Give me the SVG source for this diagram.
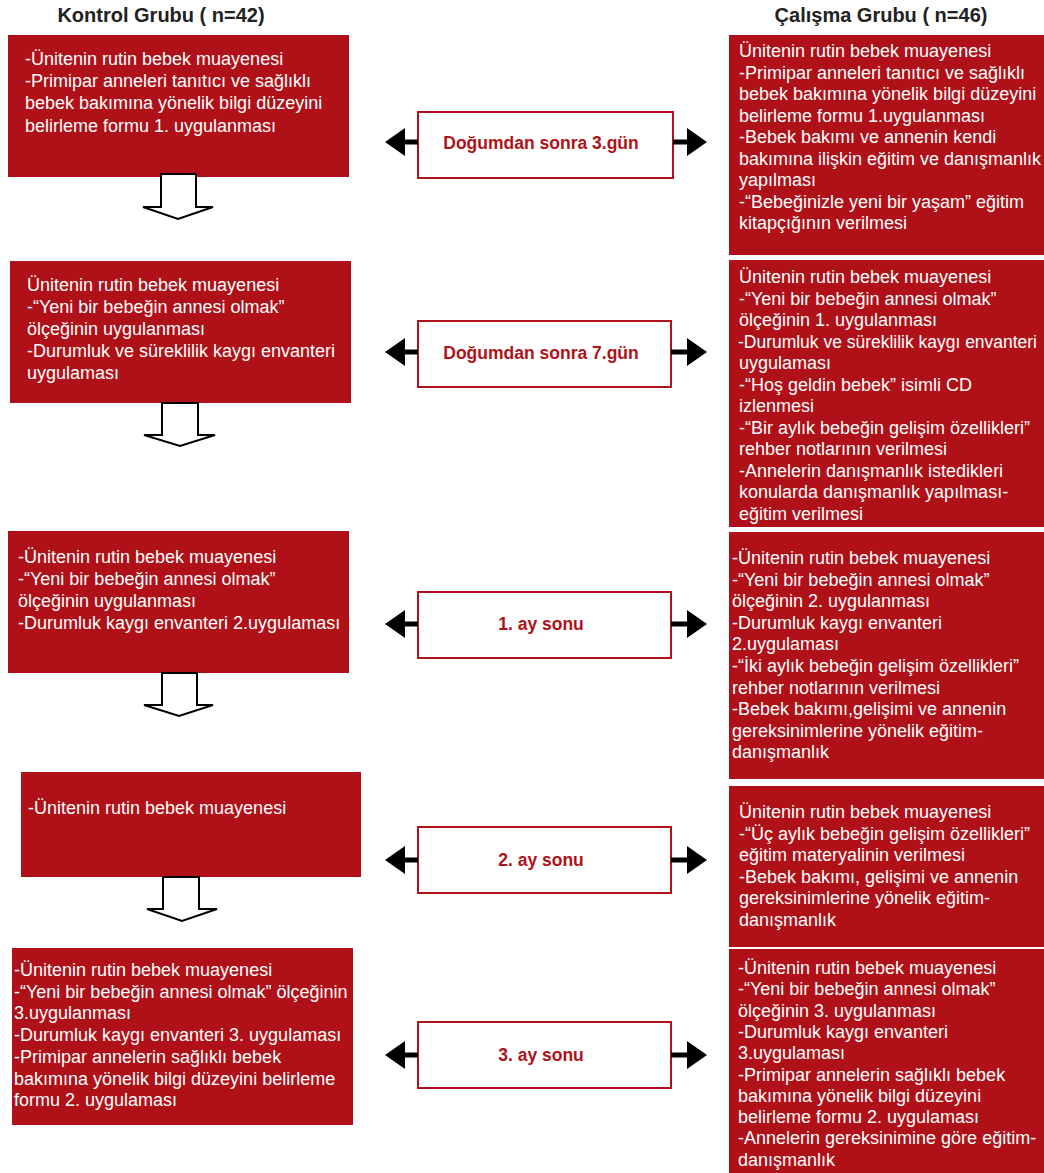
<svg xmlns="http://www.w3.org/2000/svg" width="1044" height="1173" viewBox="0 0 1044 1173">
<defs>
<style>
.hdr{font-family:"Liberation Sans",Arial,sans-serif;font-weight:bold;font-size:20px;fill:#222;text-anchor:middle}
.red{fill:#b01118}
.bt{font-family:"Liberation Sans",Arial,sans-serif;font-size:18px;fill:#fff}
.mid{fill:#fff;stroke:#b01118;stroke-width:2}
.ml{font-family:"Liberation Sans",Arial,sans-serif;font-weight:bold;font-size:17.5px;fill:#b01118;text-anchor:middle}
.down{fill:#fff;stroke:#000;stroke-width:2;stroke-linejoin:miter}
.ha{fill:#000}
</style>
</defs>
<rect width="1044" height="1173" fill="#fff"/>
<text class="hdr" x="161" y="22">Kontrol Grubu ( n=42)</text>
<text class="hdr" x="881" y="22">Çalışma Grubu ( n=46)</text>

<g id="control-1">
<rect class="red" x="8" y="35" width="341" height="142"/>
<text class="bt" x="25" y="65">-Ünitenin rutin bebek muayenesi</text>
<text class="bt" x="25" y="87.2">-Primipar anneleri tanıtıcı ve sağlıklı</text>
<text class="bt" x="25" y="109.4">bebek bakımına yönelik bilgi düzeyini</text>
<text class="bt" x="25" y="131.6">belirleme formu 1. uygulanması</text>
</g>
<g id="control-2">
<rect class="red" x="10" y="261" width="341" height="142"/>
<text class="bt" x="27" y="291">Ünitenin rutin bebek muayenesi</text>
<text class="bt" x="27" y="313">-“Yeni bir bebeğin annesi olmak”</text>
<text class="bt" x="27" y="335">ölçeğinin uygulanması</text>
<text class="bt" x="27" y="357">-Durumluk ve süreklilik kaygı envanteri</text>
<text class="bt" x="27" y="379">uygulaması</text>
</g>
<g id="control-3">
<rect class="red" x="8" y="531" width="341" height="142"/>
<text class="bt" x="18" y="563">-Ünitenin rutin bebek muayenesi</text>
<text class="bt" x="18" y="585">-“Yeni bir bebeğin annesi olmak”</text>
<text class="bt" x="18" y="607">ölçeğinin uygulanması</text>
<text class="bt" x="18" y="629">-Durumluk kaygı envanteri 2.uygulaması</text>
</g>
<g id="control-4">
<rect class="red" x="21" y="772" width="340" height="105"/>
<text class="bt" x="28" y="814">-Ünitenin rutin bebek muayenesi</text>
</g>
<g id="control-5">
<rect class="red" x="12" y="948" width="341" height="177"/>
<text class="bt" x="14" y="976">-Ünitenin rutin bebek muayenesi</text>
<text class="bt" x="14" y="997.7">-“Yeni bir bebeğin annesi olmak” ölçeğinin</text>
<text class="bt" x="14" y="1019.4">3.uygulanması</text>
<text class="bt" x="14" y="1041.1">-Durumluk kaygı envanteri 3. uygulaması</text>
<text class="bt" x="14" y="1062.8">-Primipar annelerin sağlıklı bebek</text>
<text class="bt" x="14" y="1084.5">bakımına yönelik bilgi düzeyini belirleme</text>
<text class="bt" x="14" y="1106.2">formu 2. uygulaması</text>
</g>

<g id="study-1">
<rect class="red" x="729" y="35" width="315" height="220"/>
<text class="bt" x="739" y="57">Ünitenin rutin bebek muayenesi</text>
<text class="bt" x="739" y="78.5">-Primipar anneleri tanıtıcı ve sağlıklı</text>
<text class="bt" x="739" y="100">bebek bakımına yönelik bilgi düzeyini</text>
<text class="bt" x="739" y="121.5">belirleme formu 1.uygulanması</text>
<text class="bt" x="739" y="143">-Bebek bakımı ve annenin kendi</text>
<text class="bt" x="739" y="164.5">bakımına ilişkin eğitim ve danışmanlık</text>
<text class="bt" x="739" y="186">yapılması</text>
<text class="bt" x="739" y="207.5">-“Bebeğinizle yeni bir yaşam” eğitim</text>
<text class="bt" x="739" y="229">kitapçığının verilmesi</text>
</g>
<g id="study-2">
<rect class="red" x="729" y="260" width="315" height="267"/>
<text class="bt" x="739" y="283">Ünitenin rutin bebek muayenesi</text>
<text class="bt" x="739" y="304.5">-“Yeni bir bebeğin annesi olmak”</text>
<text class="bt" x="739" y="326">ölçeğinin 1. uygulanması</text>
<text class="bt" x="738" y="347.5" textLength="299" lengthAdjust="spacingAndGlyphs">-Durumluk ve süreklilik kaygı envanteri</text>
<text class="bt" x="739" y="369">uygulaması</text>
<text class="bt" x="739" y="390.5">-“Hoş geldin bebek” isimli CD</text>
<text class="bt" x="739" y="412">izlenmesi</text>
<text class="bt" x="739" y="433.5">-“Bir aylık bebeğin gelişim özellikleri”</text>
<text class="bt" x="739" y="455">rehber notlarının verilmesi</text>
<text class="bt" x="739" y="476.5">-Annelerin danışmanlık istedikleri</text>
<text class="bt" x="739" y="498">konularda danışmanlık yapılması-</text>
<text class="bt" x="739" y="519.5">eğitim verilmesi</text>
</g>
<g id="study-3">
<rect class="red" x="729" y="532" width="315" height="247"/>
<text class="bt" x="732" y="564">-Ünitenin rutin bebek muayenesi</text>
<text class="bt" x="732" y="585.6">-“Yeni bir bebeğin annesi olmak”</text>
<text class="bt" x="732" y="607.2">ölçeğinin 2. uygulanması</text>
<text class="bt" x="732" y="628.8">-Durumluk kaygı envanteri</text>
<text class="bt" x="732" y="650.4">2.uygulaması</text>
<text class="bt" x="732" y="672">-“İki aylık bebeğin gelişim özellikleri”</text>
<text class="bt" x="732" y="693.6">rehber notlarının verilmesi</text>
<text class="bt" x="732" y="715.2">-Bebek bakımı,gelişimi ve annenin</text>
<text class="bt" x="732" y="736.8">gereksinimlerine yönelik eğitim-</text>
<text class="bt" x="732" y="758.4">danışmanlık</text>
</g>
<g id="study-4">
<rect class="red" x="729" y="786" width="315" height="161"/>
<text class="bt" x="739" y="818">Ünitenin rutin bebek muayenesi</text>
<text class="bt" x="739" y="839.6">-“Üç aylık bebeğin gelişim özellikleri”</text>
<text class="bt" x="739" y="861.2">eğitim materyalinin verilmesi</text>
<text class="bt" x="739" y="882.8">-Bebek bakımı, gelişimi ve annenin</text>
<text class="bt" x="739" y="904.4">gereksinimlerine yönelik eğitim-</text>
<text class="bt" x="739" y="926">danışmanlık</text>
</g>
<g id="study-5">
<rect class="red" x="729" y="949" width="315" height="224"/>
<text class="bt" x="738" y="974">-Ünitenin rutin bebek muayenesi</text>
<text class="bt" x="738" y="995.3">-“Yeni bir bebeğin annesi olmak”</text>
<text class="bt" x="738" y="1016.6">ölçeğinin 3. uygulanması</text>
<text class="bt" x="738" y="1037.9">-Durumluk kaygı envanteri</text>
<text class="bt" x="738" y="1059.2">3.uygulaması</text>
<text class="bt" x="738" y="1080.5">-Primipar annelerin sağlıklı bebek</text>
<text class="bt" x="738" y="1101.8">bakımına yönelik bilgi düzeyini</text>
<text class="bt" x="738" y="1123.1">belirleme formu 2. uygulaması</text>
<text class="bt" x="738" y="1144.4">-Annelerin gereksinimine göre eğitim-</text>
<text class="bt" x="738" y="1165.7">danışmanlık</text>
</g>

<g id="time-1">
<rect class="mid" x="418" y="112" width="255" height="66"/>
<text class="ml" x="541" y="149">Doğumdan sonra 3.gün</text>
</g>
<g id="time-2">
<rect class="mid" x="418" y="321" width="253" height="66"/>
<text class="ml" x="541" y="359">Doğumdan sonra 7.gün</text>
</g>
<g id="time-3">
<rect class="mid" x="418" y="592" width="253" height="66"/>
<text class="ml" x="541" y="630">1. ay sonu</text>
</g>
<g id="time-4">
<rect class="mid" x="418" y="827" width="253" height="66"/>
<text class="ml" x="541" y="866">2. ay sonu</text>
</g>
<g id="time-5">
<rect class="mid" x="418" y="1022" width="253" height="66"/>
<text class="ml" x="541" y="1061">3. ay sonu</text>
</g>

<g id="connectors">
<path class="down" d="M161,174 H196 V207 H213 L178,219 L143,207 H161 Z"/>
<path class="down" d="M162,403 H198 V435 H215 L180,446 L144,435 H162 Z"/>
<path class="down" d="M162,673 H197 V705 H213 L179,716 L144,705 H162 Z"/>
<path class="down" d="M163,877 H199 V909 H217 L182,921 L147,909 H163 Z"/>
<path class="ha" d="M385,142 L405,128 V139.5 H418 V144.5 H405 V156 Z"/>
<path class="ha" d="M707,142 L687,128 V139.5 H673 V144.5 H687 V156 Z"/>
<path class="ha" d="M385,352 L405,338 V349.5 H418 V354.5 H405 V366 Z"/>
<path class="ha" d="M707,352 L687,338 V349.5 H671 V354.5 H687 V366 Z"/>
<path class="ha" d="M385,624 L405,610 V621.5 H418 V626.5 H405 V638 Z"/>
<path class="ha" d="M707,624 L687,610 V621.5 H671 V626.5 H687 V638 Z"/>
<path class="ha" d="M385,860 L405,846 V857.5 H418 V862.5 H405 V874 Z"/>
<path class="ha" d="M707,860 L687,846 V857.5 H671 V862.5 H687 V874 Z"/>
<path class="ha" d="M385,1055 L405,1041 V1052.5 H418 V1057.5 H405 V1069 Z"/>
<path class="ha" d="M707,1055 L687,1041 V1052.5 H671 V1057.5 H687 V1069 Z"/>
</g>
</svg>
